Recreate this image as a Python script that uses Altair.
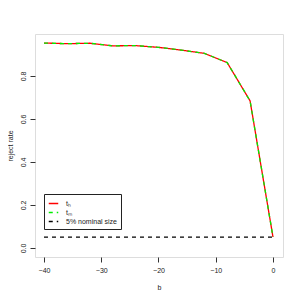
import altair as alt
import pandas as pd

b = [-40, -36, -32, -28, -24, -20, -16, -12, -8, -4, 0]
t_h = [0.953, 0.950, 0.952, 0.940, 0.941, 0.933, 0.920, 0.905, 0.862, 0.684, 0.051]
t_m = [0.953, 0.950, 0.952, 0.940, 0.941, 0.933, 0.920, 0.905, 0.862, 0.684, 0.051]
nominal_b = [-40, 0]
nominal_v = [0.05, 0.05]
series = ["tₕ", "tₘ", "5% nominal size"]
colors = ["#ff0000", "#00ee00", "#000000"]
dashes = [[1, 0], [4, 4], [4, 4]]

rows = []
for x, v in zip(b, t_h):
    rows.append({"b": x, "v": v, "s": series[0]})
for x, v in zip(b, t_m):
    rows.append({"b": x, "v": v, "s": series[1]})
for x, v in zip(nominal_b, nominal_v):
    rows.append({"b": x, "v": v, "s": series[2]})
df = pd.DataFrame(rows)

FONT = "Liberation Sans"

xs = alt.X("b:Q", scale=alt.Scale(domain=[-41.57, 1.75], nice=False, zero=False),
           axis=alt.Axis(values=[-40, -30, -20, -10, 0], title="b", format="d",
                         domain=False, grid=False, tickSize=5, tickColor="#333",
                         labelFontSize=7, labelFont=FONT, labelColor="#222", labelPadding=4,
                         titleFontSize=7, titleFont=FONT, titleFontWeight="normal",
                         titleColor="#222", titlePadding=10))
ys = alt.Y("v:Q", scale=alt.Scale(domain=[-0.042, 0.995], nice=False, zero=False),
           axis=alt.Axis(values=[0, 0.2, 0.4, 0.6, 0.8], title="reject rate", format=".1f",
                         domain=False, grid=False, tickSize=5, tickColor="#333",
                         labelFontSize=7, labelFont=FONT, labelColor="#222",
                         labelAngle=270, labelAlign="center", labelBaseline="bottom",
                         labelPadding=4,
                         titleFontSize=7, titleFont=FONT, titleFontWeight="normal",
                         titleColor="#222", titlePadding=6))
color = alt.Color("s:N", scale=alt.Scale(domain=series, range=colors),
                  legend=alt.Legend(title=None, orient="none", legendX=9, legendY=160,
                                    symbolType="stroke", symbolSize=90, symbolStrokeWidth=1.3,
                                    labelFontSize=7, labelFont=FONT, labelColor="#222",
                                    rowPadding=0, padding=4, strokeColor="#222",
                                    labelLimit=200, labelOffset=7, columnPadding=0))
dash = alt.StrokeDash("s:N", scale=alt.Scale(domain=series, range=dashes), legend=None)

base = alt.Chart(df)
layers = []
for s in series:
    layers.append(base.transform_filter(alt.datum.s == s)
                  .mark_line(strokeWidth=1.3)
                  .encode(x=xs, y=ys, color=color, strokeDash=dash))

chart = alt.layer(*layers).properties(
    width=248, height=223,
    autosize=alt.AutoSizeParams(type="none"),
    padding={"left": 27, "top": 26, "right": 9, "bottom": 35},
).configure_view(stroke="#888", strokeWidth=1.2).configure(background="white")

chart.save("out.html", embed_options={"renderer": "svg", "actions": False})
